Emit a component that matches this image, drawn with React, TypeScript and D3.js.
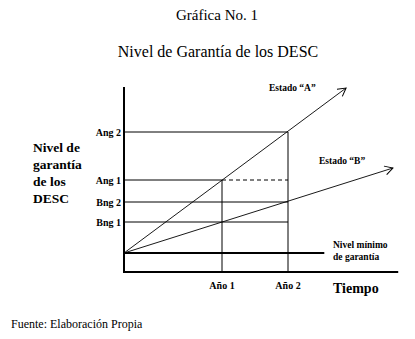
import React, { useRef, useEffect } from 'react';
import * as d3 from 'd3';

// tiempo: 0 = origen, 1 = Año 1, 2 = Año 2
const years = ['Año 1', 'Año 2'];
const yearValues = [1, 2];
const levelLabels = ['Bng 1', 'Bng 2', 'Ang 1', 'Ang 2'];
const levelValues = [31, 51, 73, 121];
const estadoA = [0, 73, 121];
const estadoB = [0, 31, 51];
// prolongación de cada recta hasta la flecha [tiempo, nivel]
const arrowA: [number, number] = [2.88, 165];
const arrowB: [number, number] = [3.59, 85];
const nivelMinimo = 0;

const App: React.FC = () => {
  const svgRef = useRef<SVGSVGElement | null>(null);

  useEffect(() => {
    if (!svgRef.current) return;
    const width = 415;
    const height = 339;
    const serif = '"Liberation Serif", "Times New Roman", serif';

    const svg = d3.select(svgRef.current);
    svg.selectAll('*').remove();
    svg.attr('width', width).attr('height', height).style('background', '#fff');

    // escalas (el eje de tiempo no es uniforme en el original)
    const x = d3.scaleLinear().domain([0, 1, 2]).range([124, 222, 288]);
    const y = d3.scaleLinear().domain([-19, 166]).range([272, 87]);
    const xEnd = 3.67;
    const minimoEnd = 2.55;

    // marcador de flecha abierta
    svg
      .append('defs')
      .append('marker')
      .attr('id', 'arrow')
      .attr('viewBox', '0 0 10 10')
      .attr('refX', 9)
      .attr('refY', 5)
      .attr('markerWidth', 10)
      .attr('markerHeight', 10)
      .attr('markerUnits', 'userSpaceOnUse')
      .attr('orient', 'auto')
      .append('path')
      .attr('d', 'M1,0.5 L9,5 L1,9.5')
      .attr('fill', 'none')
      .attr('stroke', '#000')
      .attr('stroke-width', 1);

    // títulos
    svg
      .append('text')
      .attr('x', 217)
      .attr('y', 20)
      .attr('text-anchor', 'middle')
      .style('font-family', serif)
      .style('font-size', '15px')
      .text('Gráfica No. 1');
    svg
      .append('text')
      .attr('x', 218)
      .attr('y', 57)
      .attr('text-anchor', 'middle')
      .style('font-family', serif)
      .style('font-size', '16px')
      .text('Nivel de Garantía de los DESC');

    const g = svg.append('g');

    // líneas horizontales de nivel
    levelValues.forEach((v, i) => {
      const label = levelLabels[i];
      if (label === 'Ang 1') {
        g.append('line')
          .attr('x1', x(0)).attr('x2', x(1))
          .attr('y1', y(v)).attr('y2', y(v))
          .attr('stroke', '#000').attr('stroke-width', 1);
        g.append('line')
          .attr('x1', x(1)).attr('x2', x(2))
          .attr('y1', y(v)).attr('y2', y(v))
          .attr('stroke', '#000').attr('stroke-width', 1)
          .attr('stroke-dasharray', '4,3');
      } else {
        g.append('line')
          .attr('x1', x(0)).attr('x2', x(2))
          .attr('y1', y(v)).attr('y2', y(v))
          .attr('stroke', '#000').attr('stroke-width', 1);
      }
      g.append('text')
        .attr('x', x(0) - 3)
        .attr('y', y(v))
        .attr('dy', '0.35em')
        .attr('text-anchor', 'end')
        .style('font-family', serif)
        .style('font-size', '10px')
        .style('font-weight', 'bold')
        .text(label);
    });

    // líneas verticales de los años
    yearValues.forEach((t, i) => {
      const top = i === 0 ? estadoA[1] : estadoA[2];
      g.append('line')
        .attr('x1', x(t)).attr('x2', x(t))
        .attr('y1', y(top)).attr('y2', y(-19))
        .attr('stroke', '#000').attr('stroke-width', 1);
      g.append('text')
        .attr('x', x(t))
        .attr('y', 289)
        .attr('text-anchor', 'middle')
        .style('font-family', serif)
        .style('font-size', '10px')
        .style('font-weight', 'bold')
        .text(years[i]);
    });

    // nivel mínimo de garantía
    g.append('line')
      .attr('x1', x(0)).attr('x2', x(minimoEnd))
      .attr('y1', y(nivelMinimo)).attr('y2', y(nivelMinimo))
      .attr('stroke', '#000').attr('stroke-width', 2);

    // estados A y B
    const line = d3
      .line<[number, number]>()
      .x((d) => x(d[0]))
      .y((d) => y(d[1]));
    const ptsA: [number, number][] = [[0, estadoA[0]], arrowA];
    const ptsB: [number, number][] = [[0, estadoB[0]], arrowB];
    [ptsA, ptsB].forEach((pts) => {
      g.append('path')
        .attr('d', line(pts)!)
        .attr('fill', 'none')
        .attr('stroke', '#000')
        .attr('stroke-width', 0.9)
        .attr('marker-end', 'url(#arrow)');
    });

    // ejes
    g.append('line')
      .attr('x1', x(0)).attr('x2', x(0))
      .attr('y1', y(166)).attr('y2', y(-19) + 1)
      .attr('stroke', '#000').attr('stroke-width', 2);
    g.append('line')
      .attr('x1', x(0) - 1).attr('x2', x(xEnd))
      .attr('y1', y(-19)).attr('y2', y(-19))
      .attr('stroke', '#000').attr('stroke-width', 2);

    // rótulos en negrita
    const bold = (tx: number, ty: number, txt: string, size: number) =>
      svg
        .append('text')
        .attr('x', tx)
        .attr('y', ty)
        .style('font-family', serif)
        .style('font-size', `${size}px`)
        .style('font-weight', 'bold')
        .text(txt);

    ['Nivel de', 'garantía', 'de los', 'DESC'].forEach((t, i) => bold(33, 152 + i * 17, t, 13.5));
    bold(269, 91, 'Estado “A”', 9.5);
    bold(319, 164, 'Estado “B”', 9.5);
    bold(333, 248, 'Nivel mínimo', 9.5);
    bold(333, 260, 'de garantía', 9.5);
    bold(333, 293, 'Tiempo', 14);

    svg
      .append('text')
      .attr('x', 11)
      .attr('y', 328)
      .style('font-family', serif)
      .style('font-size', '12px')
      .text('Fuente: Elaboración Propia');
  }, []);

  return <svg ref={svgRef} style={{ position: 'absolute', left: 0, top: 0 }} />;
};

export default App;
